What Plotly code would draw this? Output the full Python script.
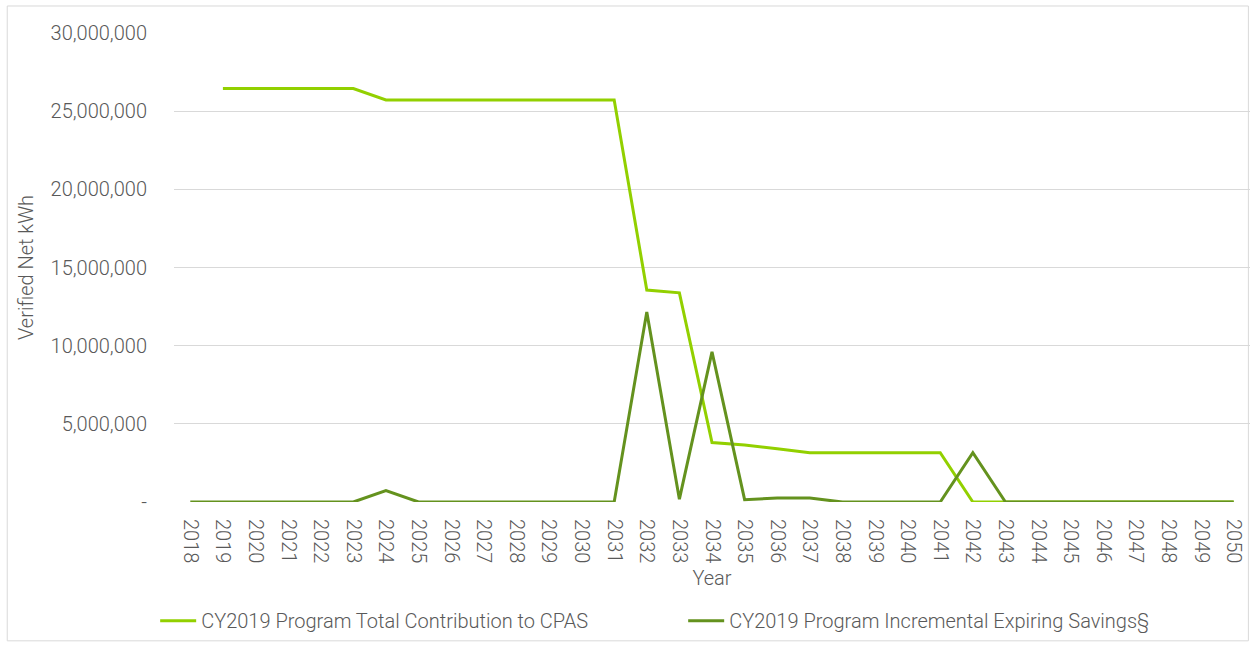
import plotly.graph_objects as go

years = [str(y) for y in range(2018, 2051)]

total_contribution = [None, 26450000, 26450000, 26450000, 26450000, 26450000,
                      25720000, 25720000, 25720000, 25720000, 25720000, 25720000,
                      25720000, 25720000, 13560000, 13380000, 3800000, 3650000,
                      3400000, 3150000, 3150000, 3150000, 3150000, 3150000,
                      0, 0, 0, 0, 0, 0, 0, 0, 0]

expiring_savings = [0, 0, 0, 0, 0, 0, 730000, 0, 0, 0, 0, 0, 0, 0,
                    12160000, 180000, 9600000, 150000, 250000, 250000, 0,
                    0, 0, 0, 3150000, 0, 0, 0, 0, 0, 0, 0, 0]

y_tickvals = [0, 5000000, 10000000, 15000000, 20000000, 25000000, 30000000]
y_ticktext = ["-", "5,000,000", "10,000,000", "15,000,000", "20,000,000",
              "25,000,000", "30,000,000"]

FONT = "Roboto, Liberation Sans, sans-serif"
GRAY = "#595959"
FS = 20

fig = go.Figure()
fig.add_trace(go.Scatter(
    x=years, y=total_contribution, mode="lines",
    name="CY2019 Program Total Contribution to CPAS",
    line=dict(color="#92D000", width=3)))
fig.add_trace(go.Scatter(
    x=years, y=expiring_savings, mode="lines",
    name="CY2019 Program Incremental Expiring Savings§",
    line=dict(color="#64921E", width=3)))

fig.update_layout(
    width=1250, height=645,
    margin=dict(l=174, r=0, t=33, b=143),
    paper_bgcolor="white", plot_bgcolor="white",
    font=dict(family=FONT, color=GRAY, size=FS, weight=300),
    showlegend=True,
    legend=dict(orientation="h", x=-0.0175, y=-0.253, xanchor="left", yanchor="middle",
                font=dict(size=FS, color=GRAY, weight=300), entrywidth=477,
                itemwidth=36, traceorder="normal", bgcolor="rgba(0,0,0,0)"),
    xaxis=dict(type="category", range=[-0.5, 32.5], tickangle=90,
               showgrid=False, zeroline=False, showline=False,
               tickfont=dict(size=FS, color=GRAY, weight=300), ticklabelstandoff=16,
               title=dict(text="Year", font=dict(size=FS, color=GRAY, weight=300), standoff=8)),
    yaxis=dict(range=[0, 30000000], tickvals=y_tickvals, ticktext=y_ticktext,
               showgrid=True, gridcolor="#D9D9D9", gridwidth=1,
               zeroline=False, showline=False,
               tickfont=dict(size=FS, color=GRAY, weight=300), ticklabelstandoff=26,
               title=dict(text="Verified Net kWh", font=dict(size=FS, color=GRAY, weight=300), standoff=11)),
    shapes=[dict(type="rect", xref="paper", yref="paper",
                 x0=-0.155, x1=0.9985, y0=-0.296, y1=1.0576,
                 line=dict(color="#D9D9D9", width=1), fillcolor="rgba(0,0,0,0)",
                 layer="below")],
)

fig.write_html("out.html", config={"displayModeBar": False},
               post_script="document.body.style.margin='0px';")
